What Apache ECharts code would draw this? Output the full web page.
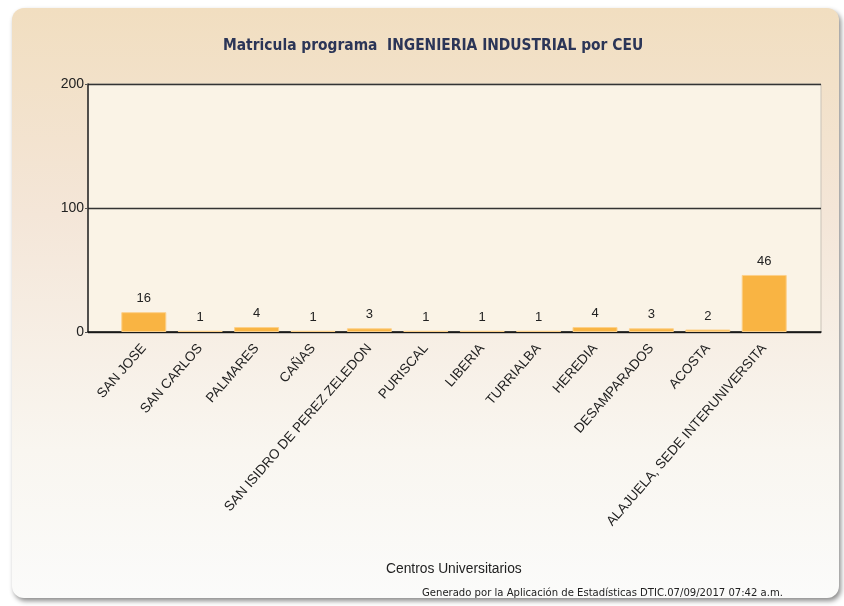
<!DOCTYPE html>
<html>
<head>
<meta charset="utf-8">
<script src="https://cdn.jsdelivr.net/npm/echarts@6/dist/echarts.min.js"></script>
<style>
  html, body { margin: 0; padding: 0; background: #ffffff; }
  #chart { width: 844px; height: 606px; }
</style>
</head>
<body>
<div id="chart"></div>
<script>
// datos de la grafica
var categorias = [
  'SAN JOSE', 'SAN CARLOS', 'PALMARES', 'CAÑAS', 'SAN ISIDRO DE PEREZ ZELEDON',
  'PURISCAL', 'LIBERIA', 'TURRIALBA', 'HEREDIA', 'DESAMPARADOS', 'ACOSTA',
  'ALAJUELA, SEDE INTERUNIVERSITA'
]
var matricula = [16, 1, 4, 1, 3, 1, 1, 1, 4, 3, 2, 46]
var yTicks = [0, 100, 200]

var chart = echarts.init(document.getElementById('chart'))

var option = {
  animation: false,
  graphic: [
    {
      type: 'rect',
      z: -10,
      shape: { x: 12, y: 8, width: 827, height: 590, r: 12 },
      style: {
        fill: new echarts.graphic.LinearGradient(0, 0, 0, 1, [
          { offset: 0, color: '#f1dec0' },
          { offset: 0.35, color: '#f4e6d8' },
          { offset: 0.75, color: '#f9f6f0' },
          { offset: 1, color: '#fbfbfa' },
        ]),
        shadowBlur: 5,
        shadowOffsetX: 2,
        shadowOffsetY: 3,
        shadowColor: 'rgba(0,0,0,0.45)',
      },
    },
  ],
  title: [
    {
      text: 'Matricula programa  INGENIERIA INDUSTRIAL por CEU',
      left: 218,
      top: 33,
      textStyle: {
        fontFamily: 'DejaVu Sans Condensed',
        fontWeight: 'bold',
        fontSize: 15.4,
        color: '#2b3557',
      },
    },
    {
      text: 'Centros Universitarios',
      left: 381,
      top: 557,
      textStyle: {
        fontFamily: 'Liberation Sans',
        fontWeight: 'normal',
        fontSize: 13.8,
        color: '#222',
      },
    },
    {
      text: 'Generado por la Aplicación de Estadísticas DTIC.07/09/2017 07:42 a.m.',
      left: 417,
      top: 583,
      textStyle: {
        fontFamily: 'DejaVu Sans Condensed',
        fontWeight: 'normal',
        fontSize: 11.2,
        color: '#222',
      },
    },
  ],
  grid: [
    {
      left: 88,
      right: 23,
      top: 84,
      bottom: 274,
      show: true,
      backgroundColor: '#faf3e6',
      borderColor: '#c9c2b8',
      borderWidth: 1,
    },
    {
      left: 115.6,
      right: 51.6,
      top: 84,
      bottom: 274,
    },
  ],
  xAxis: [
    {
      gridIndex: 0,
      type: 'value',
      min: 0,
      max: 1,
      axisLine: { show: true, lineStyle: { color: '#111', width: 1.5 } },
      axisTick: { show: false },
      axisLabel: { show: false },
      splitLine: { show: false },
    },
    {
      gridIndex: 1,
      type: 'category',
      data: categorias,
      axisLine: { show: false },
      axisTick: { show: false },
      axisLabel: {
        interval: 0,
        rotate: 49,
        margin: 14,
        fontFamily: 'Liberation Sans',
        fontSize: 13.5,
        color: '#222',
      },
    },
  ],
  yAxis: [
    {
      gridIndex: 0,
      type: 'value',
      min: yTicks[0],
      max: yTicks[yTicks.length - 1],
      interval: 100,
      axisLine: { show: true, lineStyle: { color: '#222', width: 1.5 } },
      axisTick: { show: true, length: 3, lineStyle: { color: '#555' } },
      axisLabel: {
        margin: 4,
        fontFamily: 'Liberation Sans',
        fontSize: 14,
        color: '#222',
      },
      splitLine: { show: true, lineStyle: { color: '#333', width: 1.3 } },
    },
    {
      gridIndex: 1,
      type: 'value',
      min: yTicks[0],
      max: yTicks[yTicks.length - 1],
      show: false,
    },
  ],
  series: [
    {
      type: 'bar',
      xAxisIndex: 1,
      yAxisIndex: 1,
      data: matricula,
      barWidth: 45,
      itemStyle: {
        color: '#f9b443',
        borderColor: '#fcd08a',
        borderWidth: 1,
      },
      label: {
        show: true,
        position: 'top',
        distance: 7,
        fontFamily: 'Liberation Sans',
        fontSize: 13,
        color: '#222',
      },
    },
  ],
}

chart.setOption(option)
</script>
</body>
</html>
